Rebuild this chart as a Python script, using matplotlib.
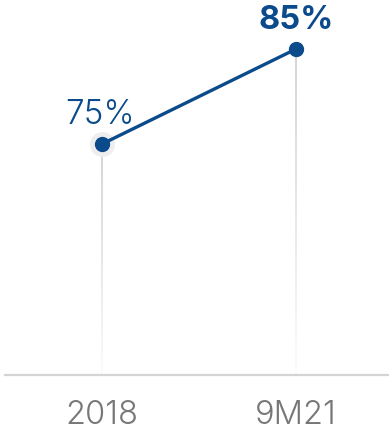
import matplotlib
matplotlib.use("Agg")
import matplotlib.pyplot as plt
import numpy as np
from matplotlib.collections import LineCollection

categories = ["2018", "9M21"]
values = [75, 85]
labels = ["75%", "85%"]

fam = ["Inter", "DejaVu Sans"]

blue = "#0b4a8b"
fig = plt.figure(figsize=(3.89, 4.31), dpi=100)
ax = fig.add_axes([0, 0, 1, 1])
ax.set_xlim(-0.526, 1.479)
ax.set_ylim(44.9, 90.26)
ax.axis("off")

x = np.arange(len(categories))
base = 50.7

# fading drop lines from each point to the baseline
for xi, v in zip(x, values):
    ys = np.linspace(v, base, 60)
    segs = [[(xi, ys[i]), (xi, ys[i + 1])] for i in range(len(ys) - 1)]
    t = np.linspace(0, 1, len(segs))
    cols = [(0.80 + 0.18 * ti, 0.80 + 0.18 * ti, 0.80 + 0.18 * ti) for ti in t]
    ax.add_collection(LineCollection(segs, colors=cols, linewidths=1.2, zorder=1))

# baseline
ax.axhline(base, xmin=5 / 389, xmax=1, color="#d4d4d4", lw=1.6, zorder=1)

# halo behind the first point
ax.plot(x[0], values[0], "o", ms=17, color="#eeeeee", zorder=2)
ax.plot(x, values, "-", color=blue, lw=2.4, zorder=3, solid_capstyle="round")
ax.plot(x, values, "o", ms=10, color=blue, zorder=4)

ax.text(x[0] - 0.01, values[0] + 1.5, labels[0], ha="center", va="bottom",
        fontsize=24, color=blue, fontfamily=fam, fontweight=300)
ax.text(x[1], values[1] + 1.45, labels[1], ha="center", va="bottom",
        fontsize=23.5, color=blue, fontfamily=fam, fontweight=700)

for xi, c in zip(x, categories):
    ax.text(xi, 46.5, c, ha="center", va="center", fontsize=23.5,
            color="#777777", fontfamily=fam, fontweight=300)

fig.savefig("out.png", dpi=100)
